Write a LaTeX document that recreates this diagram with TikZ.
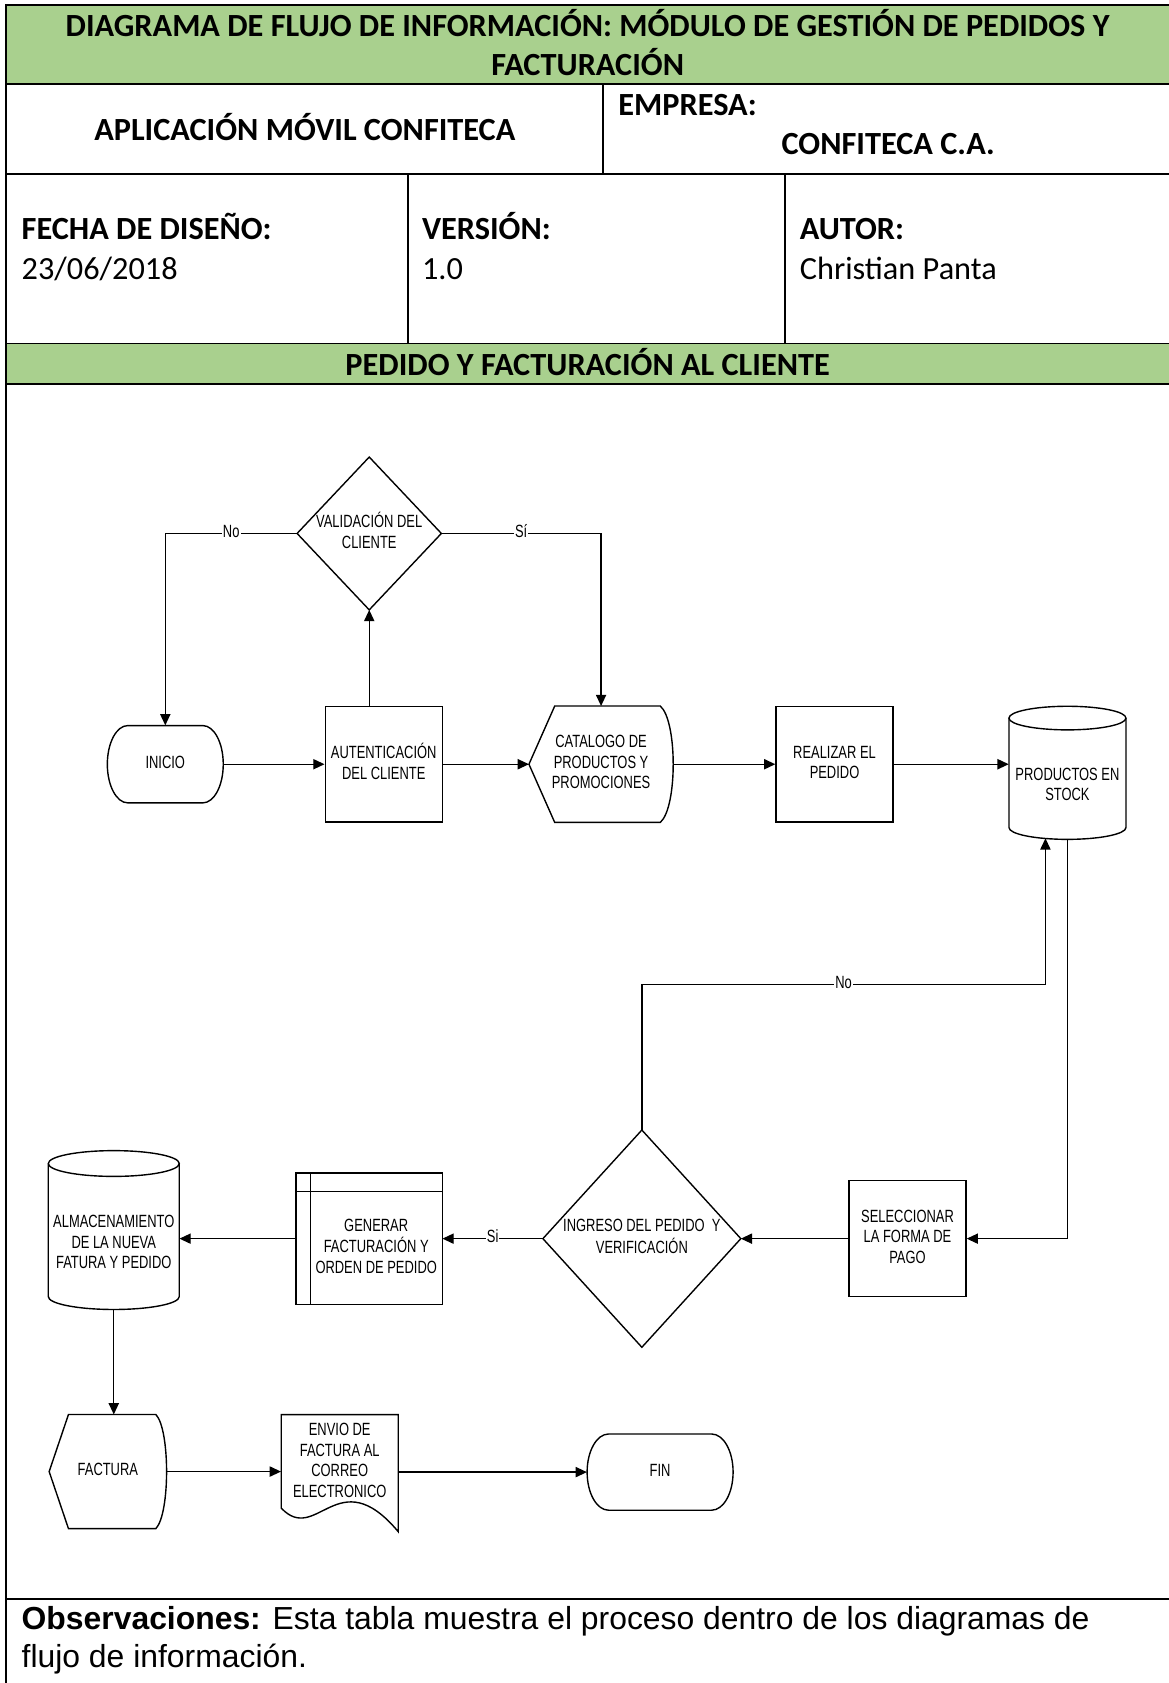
\documentclass[tikz,border=0pt]{standalone}
\usepackage{fontspec}
\usepackage{graphicx}
\setmainfont{Carlito}
\newfontfamily\arialfont{Liberation Sans}
\usetikzlibrary{arrows.meta,calc}
\definecolor{hdrgreen}{HTML}{A9D08E}

% condensed multi-line label used inside the flowchart symbols
\newcommand\flowtext[1]{\scalebox{0.73}[1]{\begin{tabular}{@{}c@{}}#1\end{tabular}}}

% terminator: left, top, right, bottom, end radius
\newcommand\termoutline[5]{%
  \draw[shp] ({#1+#5},#2) -- ({#3-#5},#2)
    .. controls ({#3-0.4477*#5},#2) and (#3,{(#2+#4)/2-0.27615*(#4-#2)}) .. (#3,{(#2+#4)/2})
    .. controls (#3,{(#2+#4)/2+0.27615*(#4-#2)}) and ({#3-0.4477*#5},#4) .. ({#3-#5},#4)
    -- ({#1+#5},#4)
    .. controls ({#1+0.4477*#5},#4) and (#1,{(#2+#4)/2+0.27615*(#4-#2)}) .. (#1,{(#2+#4)/2})
    .. controls (#1,{(#2+#4)/2-0.27615*(#4-#2)}) and ({#1+0.4477*#5},#2) .. cycle;}

% display symbol around a node: node, left inset, right bulge
\newcommand\displayoutline[3]{%
  \draw[shp] (#1.west) -- ($(#1.north west)+(#2,0)$) -- ($(#1.north east)+(-#3,0)$)
    .. controls ($(#1.north east)+({#3/3},14)$) and ($(#1.south east)+({#3/3},-14)$) .. ($(#1.south east)+(-#3,0)$)
    -- ($(#1.south west)+(#2,0)$) -- cycle;}

% stored-data cylinder: left, top, right, bottom, cap radius
\newcommand\cylinderoutline[5]{%
  \draw[shp] (#1,{#2+#5}) -- (#1,{#4-#5})
    arc[start angle=180,end angle=0,x radius={(#3-#1)/2},y radius=#5] -- (#3,{#2+#5});
  \draw[shp] ({(#1+#3)/2},{#2+#5}) ellipse [x radius={(#3-#1)/2}, y radius=#5];}

\tikzset{
  grid/.style={line width=1.8pt},
  hdr/.style={font=\fontsize{30.1}{35}\selectfont\bfseries, anchor=base, inner sep=0pt},
  hdrval/.style={font=\fontsize{30.1}{35}\selectfont, anchor=base west, inner sep=0pt},
  obs/.style={font=\arialfont\fontsize{29.7}{35}\selectfont, anchor=base west, inner sep=0pt},
  ftext/.style={font=\arialfont\fontsize{16.5}{19}\selectfont, inner sep=0pt},
  shp/.style={line width=1.3pt},
  bound/.style={ftext, draw=none},
  procbox/.style={ftext, draw, line width=1.3pt, minimum width=109pt, minimum height=108pt},
  arr/.style={line width=1.3pt, -{Triangle[length=10.5pt,width=9.5pt]}},
  lbl/.style={ftext, fill=white, inner sep=1pt},
}

\begin{document}
\begin{tikzpicture}[x=1pt,y=-1pt]
\useasboundingbox (0,0) rectangle (1089,1568);

% ---------- header table ----------
\fill[hdrgreen] (5.6,5) rectangle (1089,78);
\fill[hdrgreen] (5.6,320) rectangle (1089,358);
\draw[grid] (5.6,5) -- (1089,5);
\draw[grid] (5.6,78) -- (1089,78);
\draw[grid] (5.6,162) -- (1089,162);
\draw[grid] (5.6,320) -- (1089,320);
\draw[grid] (5.6,358) -- (1089,358);
\draw[grid] (5.6,1490) -- (1089,1490);
\draw[grid] (5.6,4.1) -- (5.6,1568);
\draw[grid] (562,78) -- (562,162);
\draw[grid] (380,162) -- (380,320);
\draw[grid] (731,162) -- (731,320);

\node[hdr] (title1) at (547.5,34) {DIAGRAMA DE FLUJO DE INFORMACIÓN: MÓDULO DE GESTIÓN DE PEDIDOS Y};
\node[hdr] (title2) at (547.5,70) {FACTURACIÓN};
\node[hdr] (app) at (284,130.5) {APLICACIÓN MÓVIL CONFITECA};
\node[hdr, anchor=base west] (empresa) at (576,107.5) {EMPRESA:};
\node[hdr, anchor=base west] (empresaval) at (728,143.5) {CONFITECA C.A.};
\node[hdr, anchor=base west] (fecha) at (20,223.5) {FECHA DE DISEÑO:};
\node[hdrval] (fechaval) at (20,260.5) {23/06/2018};
\node[hdr, anchor=base west] (version) at (393,223.5) {VERSIÓN:};
\node[hdrval] (versionval) at (393,260.5) {1.0};
\node[hdr, anchor=base west] (autor) at (745,223.5) {AUTOR:};
\node[hdrval] (autorval) at (745,260.5) {Christian Panta};
\node[hdr] (section) at (547.5,349.5) {PEDIDO Y FACTURACIÓN AL CLIENTE};

\node[obs] (obs1) at (20,1518.5) {\textbf{Observaciones:} Esta tabla muestra el proceso dentro de los diagramas de};
\node[obs] (obs2) at (20,1553.5) {flujo de información.};

% ---------- flowchart symbols ----------
% start
\termoutline{100}{676}{208}{748}{19}
\node[bound, minimum width=108pt, minimum height=72pt] (inicio) at (154,712) {\flowtext{INICIO}};

% authentication
\node[procbox] (auth) at (357.5,712) {\flowtext{AUTENTICACIÓN\\DEL CLIENTE}};

% validation decision
\node[bound, minimum width=134pt, minimum height=142pt] (valid) at (344,497) {\flowtext{VALIDACIÓN DEL\\CLIENTE}};
\draw[shp] (valid.north) -- (valid.east) -- (valid.south) -- (valid.west) -- cycle;

% catalogue display
\node[bound, minimum width=134pt, minimum height=108pt] (catalog) at (560,712) {\flowtext{CATALOGO DE\\PRODUCTOS Y\\PROMOCIONES}};
\displayoutline{catalog}{24}{12}

% place order
\node[procbox] (realizar) at (777.5,712) {\flowtext{REALIZAR EL\\PEDIDO}};

% stock database
\node[bound, minimum width=109pt, minimum height=124pt] (stock) at (994.5,720) {};
\cylinderoutline{940}{658}{1049}{782}{11}
\node[ftext] (stock-t) at (994.5,732.5) {\flowtext{PRODUCTOS EN\\STOCK}};

% payment selection
\node[procbox] (pago) at (845.5,1154) {\flowtext{SELECCIONAR\\LA FORMA DE\\PAGO}};

% order check decision
\node[bound, minimum width=184pt, minimum height=202pt] (ingreso) at (598,1154) {\flowtext{INGRESO DEL PEDIDO\ \ Y\\VERIFICACIÓN}};
\draw[shp] (ingreso.north) -- (ingreso.east) -- (ingreso.south) -- (ingreso.west) -- cycle;

% invoice generation (internal storage)
\node[bound, minimum width=136pt, minimum height=122pt] (genera) at (344,1154) {};
\draw[shp] (genera.north west) rectangle (genera.south east);
\draw[shp] (289,1093) -- (289,1215);
\draw[shp] (276,1110) -- (412,1110);
\node[ftext] (genera-t) at (350.5,1163) {\flowtext{GENERAR\\FACTURACIÓN Y\\ORDEN DE PEDIDO}};

% invoice storage
\node[bound, minimum width=122pt, minimum height=148pt] (almac) at (106,1146) {};
\cylinderoutline{45}{1072}{167}{1220}{12}
\node[ftext] (almac-t) at (106,1159) {\flowtext{ALMACENAMIENTO\\DE LA NUEVA\\FATURA Y PEDIDO}};

% invoice display
\node[bound, minimum width=109pt, minimum height=106pt] (factura) at (100.5,1371) {\flowtext{FACTURA}};
\displayoutline{factura}{18}{10}

% e-mail document
\node[bound, minimum width=109pt, minimum height=109pt] (envio) at (316.5,1372.5) {};
\draw[shp] (262,1318) -- (371,1318) -- (371,1427)
  .. controls (315,1360) and (295,1440) .. (262,1405) -- cycle;
\node[ftext] (envio-t) at (316.5,1362.5) {\flowtext{ENVIO DE\\FACTURA AL\\CORREO\\ELECTRONICO}};

% end
\termoutline{547}{1336}{683}{1407}{20}
\node[bound, minimum width=136pt, minimum height=71pt] (fin) at (615,1371.5) {\flowtext{FIN}};

% ---------- connectors ----------
\coordinate (nocorner) at (598,917);
\coordinate (stockin) at (974,781);

\draw[arr] (valid.west) -- node[lbl]{\flowtext{No}} (valid.west -| inicio.north) -- (inicio.north);
\draw[arr] (valid.east) -- node[lbl]{\flowtext{Sí}} (valid.east -| catalog.north) -- (catalog.north);
\draw[arr] (inicio.east) -- (auth.west);
\draw[arr] (valid.south |- auth.north) -- (valid.south);
\draw[arr] (auth.east) -- (catalog.west);
\draw[arr] (catalog.east) -- (realizar.west);
\draw[arr] (realizar.east) -- (realizar.east -| stock.west);
\draw[arr] (stock.south) |- (pago.east);
\draw[arr] (pago.west) -- (ingreso.east);
\draw[arr] (ingreso.north) -- (nocorner) -- node[lbl]{\flowtext{No}} (nocorner -| stockin) -- (stockin);
\draw[arr] (ingreso.west) -- node[lbl]{\flowtext{Si}} (genera.east);
\draw[arr] (genera.west) -- (genera.west -| almac.east);
\draw[arr] (almac.south) -- (almac.south |- factura.north);
\draw[arr] (factura.east) -- (factura.east -| envio.west);
\draw[arr] (fin.west -| envio.east) -- (fin.west);
\end{tikzpicture}
\end{document}
